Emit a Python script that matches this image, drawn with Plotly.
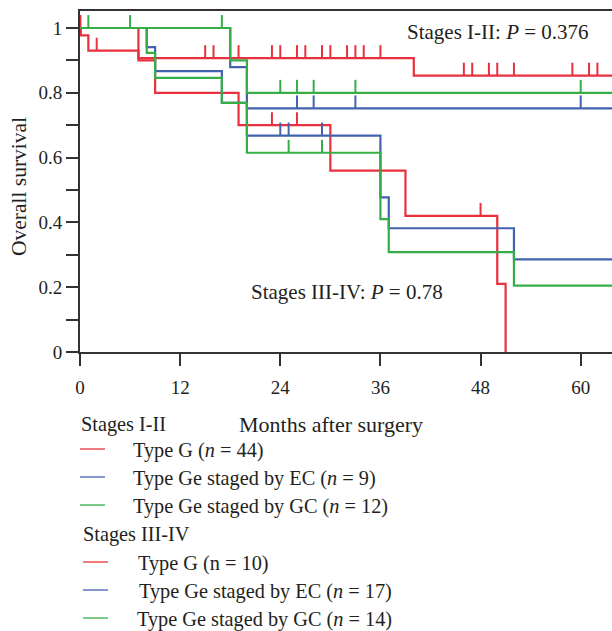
import plotly.graph_objects as go

# ---------------- data ----------------
# Stages I-II
g12_t = [0, 0.1, 1, 7, 40, 66]
g12_s = [1.0, 0.977, 0.930, 0.907, 0.853, 0.853]
g12_cens = [0.05, 2, 15, 16, 19, 23, 24, 26, 27, 29, 30, 32, 33, 34, 36,
            46, 47, 49, 50, 52, 59, 61, 62]

ec12_t = [0, 18, 20, 66]
ec12_s = [1.0, 0.879, 0.752, 0.752]
ec12_cens = [26, 28, 33, 60]

gc12_t = [0, 18, 20, 66]
gc12_s = [1.0, 0.900, 0.800, 0.800]
gc12_cens = [1, 17, 24, 26, 28, 33, 60]

# Stages III-IV
g34_t = [0, 7, 9, 19, 30, 39, 50, 51]
g34_s = [1.0, 0.9, 0.8, 0.7, 0.56, 0.42, 0.21, 0.0]
g34_cens = [23, 26, 48]

ec34_t = [0, 8, 9, 17, 20, 36, 37, 52, 66]
ec34_s = [1.0, 0.941, 0.867, 0.769, 0.668, 0.477, 0.382, 0.286, 0.286]
ec34_cens = [24, 25, 29]

gc34_t = [0, 8, 9, 17, 20, 36, 37, 52, 66]
gc34_s = [1.0, 0.923, 0.846, 0.769, 0.615, 0.410, 0.308, 0.205, 0.205]
gc34_cens = [6, 25, 29]

x_ticks = [0, 12, 24, 36, 48, 60]
y_ticks = [0, 0.1, 0.2, 0.3, 0.4, 0.5, 0.6, 0.7, 0.8, 0.9, 1.0]
y_ticktext = ["0", "", "0.2", "", "0.4", "", "0.6", "", "0.8", "", "1"]

legend_12 = ["Type G (<i>n</i> = 44)",
             "Type Ge staged by EC (<i>n</i> = 9)",
             "Type Ge staged by GC (<i>n</i> = 12)"]
legend_34 = ["Type G (n = 10)",
             "Type Ge staged by EC (<i>n</i> = 17)",
             "Type Ge staged by GC (<i>n</i> = 14)"]

# ---------------- style ----------------
RED = "#E8303F"
BLUE = "#4362AE"
GREEN = "#36AE48"
TXT = "#231F20"
AX = "#333333"
FONT = "Liberation Serif"

W, H = 612, 631
# plot area in window pixels: x 80..612, y 11..352
L, R, T, B = 80, 0, 11, 631 - 352
PW, PH = 612 - 80, 352 - 11
XMAX = 63.75
YMAX = 1.0525
TICK_H = 0.04                          # censor tick height in survival units


def px(xp, yp):
    """window pixel -> paper coordinates"""
    return (xp - 80) / PW, (352 - yp) / PH


def level_at(ts, ss, t):
    lv = ss[0]
    for ti, si in zip(ts, ss):
        if ti <= t:
            lv = si
    return lv


fig = go.Figure()


def add_curve(ts, ss, cens, color):
    fig.add_trace(go.Scatter(x=ts, y=ss, mode="lines", line_shape="hv",
                             line=dict(color=color, width=2.2),
                             showlegend=False, hoverinfo="skip"))
    cx, cy = [], []
    for c in cens:
        lv = level_at(ts, ss, c)
        cx += [c, c, None]
        cy += [lv, lv + TICK_H, None]
    fig.add_trace(go.Scatter(x=cx, y=cy, mode="lines",
                             line=dict(color=color, width=2),
                             showlegend=False, hoverinfo="skip"))


add_curve(g34_t, g34_s, g34_cens, RED)
add_curve(g12_t, g12_s, g12_cens, RED)
add_curve(ec34_t, ec34_s, ec34_cens, BLUE)
add_curve(ec12_t, ec12_s, ec12_cens, BLUE)
add_curve(gc34_t, gc34_s, gc34_cens, GREEN)
add_curve(gc12_t, gc12_s, gc12_cens, GREEN)

annotations = []
shapes = []


def text(xp, yp, s, size=21, anchor="left", angle=0):
    x, y = px(xp, yp)
    annotations.append(dict(x=x, y=y, xref="paper", yref="paper", text=s,
                            showarrow=False, xanchor=anchor, yanchor="middle",
                            textangle=angle,
                            font=dict(family=FONT, size=size, color=TXT)))


def legline(x0p, x1p, yp, color):
    x0, y = px(x0p, yp)
    x1, _ = px(x1p, yp)
    shapes.append(dict(type="line", xref="paper", yref="paper",
                       x0=x0, x1=x1, y0=y, y1=y,
                       line=dict(color=color, width=1.3)))


# in-plot annotations
text(405, 32, "Stages I-II: <i>P</i> = 0.376")
text(249, 292, "Stages III-IV: <i>P</i> = 0.78")

# axis titles
text(331, 424, "Months after surgery", size=22, anchor="center")
text(19, 187, "Overall survival", size=21.5, anchor="center", angle=-90)

# legend block
LEG = 20.3
text(79, 424, "Stages I-II", size=LEG)
colors = [RED, BLUE, GREEN]
for i, (lab, col) in enumerate(zip(legend_12, colors)):
    yy = 450 + 28 * i
    legline(80, 105, yy - 1, col)
    text(131, yy, lab, size=LEG)
text(81, 534, "Stages III-IV", size=LEG)
offs = [136, 137, 135]
for i, (lab, col) in enumerate(zip(legend_34, colors)):
    yy = 563 + 28 * i
    legline(83, 108, yy - 1, col)
    text(offs[i], yy, lab, size=LEG)

fig.update_layout(
    width=W, height=H,
    margin=dict(l=L, r=R, t=T, b=B, pad=0),
    paper_bgcolor="white", plot_bgcolor="white",
    showlegend=False,
    annotations=annotations, shapes=shapes,
    font=dict(family=FONT, color=TXT),
    xaxis=dict(range=[0, XMAX], tickvals=x_ticks,
               ticktext=[str(v) for v in x_ticks],
               showgrid=False, zeroline=False,
               showline=True, linecolor=AX, linewidth=2, mirror=True,
               ticks="outside", ticklen=12, tickwidth=2, tickcolor=AX,
               tickfont=dict(family=FONT, size=19, color=TXT),
               ticklabelstandoff=5),
    yaxis=dict(range=[0, YMAX], tickvals=y_ticks, ticktext=y_ticktext,
               showgrid=False, zeroline=False,
               showline=True, linecolor=AX, linewidth=2, mirror=False,
               ticks="outside", ticklen=12, tickwidth=2, tickcolor=AX,
               tickfont=dict(family=FONT, size=19, color=TXT),
               ticklabelstandoff=0),
)

# remove the default page margin so the 612x631 figure fills the window
fig.write_html("out.html",
               config={"displayModeBar": False},
               post_script="document.body.style.margin='0';"
                           "document.documentElement.style.overflow='hidden';")
